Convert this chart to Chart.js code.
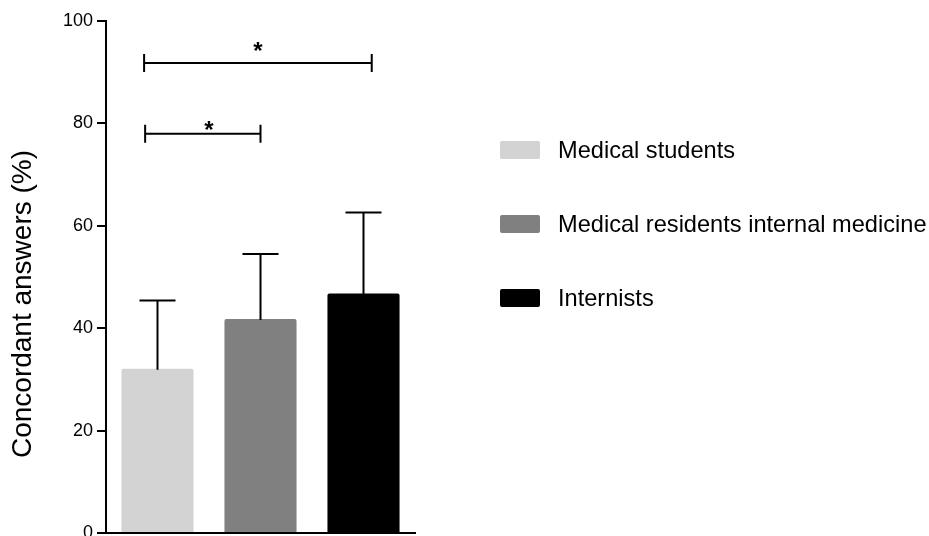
<!DOCTYPE html>
<html>
<head>
<meta charset="utf-8">
<script src="https://cdn.jsdelivr.net/npm/chart.js@4.4.1/dist/chart.umd.min.js"></script>
<style>
    html, body { margin: 0; padding: 0; background: #fff; }
    #wrap { width: 929px; height: 536px; position: relative; }
</style>
</head>
<body>
<div id="wrap"><canvas id="chart"></canvas></div>
<script>
// Data
const groups = ['Medical students', 'Medical residents internal medicine', 'Internists'];
const meanValues = [32.1, 41.8, 46.8];
const upperError = [45.4, 54.5, 62.6];   // top of the error whisker
const barColors = ['#d3d3d3', '#808080', '#000000'];
const yTicks = [0, 20, 40, 60, 80, 100];
const yTitle = 'Concordant answers (%)';

// significance brackets (x in category units, y in %)
const bracketFrom = [-0.12, -0.13];
const bracketTo = [1.0, 2.08];
const bracketY = [78.0, 91.8];
const bracketLabel = ['*', '*'];

const FONT = '"Liberation Sans", Arial, Helvetica, sans-serif';

const errorBarPlugin = {
    id: 'errorBars',
    afterDatasetsDraw(chart) {
        const ctx = chart.ctx;
        const yScale = chart.scales.y;
        const meta = chart.getDatasetMeta(0);
        ctx.save();
        ctx.strokeStyle = '#000';
        ctx.lineWidth = 2;
        meta.data.forEach((bar, i) => {
            const x = bar.x;
            const y0 = yScale.getPixelForValue(meanValues[i]);
            const y1 = yScale.getPixelForValue(upperError[i]);
            const half = bar.width / 4;
            ctx.beginPath();
            ctx.moveTo(x, y0 + 1);
            ctx.lineTo(x, y1);
            ctx.moveTo(x - half, y1);
            ctx.lineTo(x + half, y1);
            ctx.stroke();
        });
        ctx.restore();
    }
};

const bracketPlugin = {
    id: 'brackets',
    afterDraw(chart) {
        const ctx = chart.ctx;
        const xScale = chart.scales.x;
        const yScale = chart.scales.y;
        ctx.save();
        ctx.strokeStyle = '#000';
        ctx.fillStyle = '#000';
        ctx.lineWidth = 2;
        ctx.font = 'bold 24px ' + FONT;
        ctx.textAlign = 'center';
        ctx.textBaseline = 'alphabetic';
        bracketY.forEach((v, i) => {
            const xa = xScale.getPixelForValue(bracketFrom[i]);
            const xb = xScale.getPixelForValue(bracketTo[i]);
            const y = yScale.getPixelForValue(v);
            ctx.beginPath();
            ctx.moveTo(xa, y);
            ctx.lineTo(xb, y);
            ctx.moveTo(xa, y - 9);
            ctx.lineTo(xa, y + 9);
            ctx.moveTo(xb, y - 9);
            ctx.lineTo(xb, y + 9);
            ctx.stroke();
            const gap = i === 0 ? 11 : 19;
            ctx.fillText(bracketLabel[i], (xa + xb) / 2 + (i === 0 ? 6 : 0), y - gap + 15);
        });
        ctx.restore();
    }
};

// y title drawn by hand: in the figure it sits lower than the axis centre
const yTitlePlugin = {
    id: 'yTitle',
    afterDraw(chart) {
        const ctx = chart.ctx;
        ctx.save();
        ctx.translate(23, 304);
        ctx.rotate(-Math.PI / 2);
        ctx.font = '28px ' + FONT;
        ctx.fillStyle = '#000';
        ctx.textAlign = 'center';
        ctx.textBaseline = 'middle';
        ctx.fillText(yTitle, 0, 0);
        ctx.restore();
    }
};

const legendPlugin = {
    id: 'sideLegend',
    afterDraw(chart) {
        const ctx = chart.ctx;
        const area = chart.chartArea;
        const x0 = area.right + 85;
        ctx.save();
        ctx.font = '23.6px ' + FONT;
        ctx.textBaseline = 'middle';
        ctx.textAlign = 'left';
        groups.forEach((name, i) => {
            const cy = 150 + i * 74;
            ctx.fillStyle = barColors[i];
            ctx.beginPath();
            ctx.roundRect(x0, cy - 9, 40, 18, 2);
            ctx.fill();
            ctx.fillStyle = '#000';
            ctx.fillText(name, x0 + 58, cy + 1);
        });
        ctx.restore();
    }
};

new Chart(document.getElementById('chart'), {
    type: 'bar',
    data: {
        labels: groups,
        datasets: [{
            data: meanValues,
            backgroundColor: barColors,
            borderWidth: 0,
            borderRadius: 2,
            borderSkipped: 'bottom',
            barPercentage: 0.70,
            categoryPercentage: 1.0
        }]
    },
    options: {
        responsive: true,
        maintainAspectRatio: false,
        animation: false,
        layout: { padding: { top: 21, right: 514, bottom: 3, left: 0 } },
        plugins: {
            legend: { display: false },
            tooltip: { enabled: false }
        },
        scales: {
            x: {
                offset: true,
                grid: { display: false },
                border: { display: true, color: '#000', width: 2 },
                ticks: { display: false },
                afterFit(scale) { scale.height = 0; }
            },
            y: {
                min: 0,
                max: 100,
                afterBuildTicks(scale) { scale.ticks = yTicks.map(v => ({ value: v })); },
                grid: {
                    display: true,
                    drawOnChartArea: false,
                    drawTicks: true,
                    tickLength: 9,
                    color: '#000',
                    lineWidth: 2
                },
                border: { display: true, color: '#000', width: 2 },
                ticks: {
                    color: '#000',
                    padding: 4,
                    font: { family: FONT, size: 18 }
                },
                title: { display: false },
                afterFit(scale) {
                    scale.width = 106;
                    scale.paddingTop = 0;
                    scale.paddingBottom = 0;
                }
            }
        }
    },
    plugins: [errorBarPlugin, bracketPlugin, yTitlePlugin, legendPlugin]
});
</script>
</body>
</html>
